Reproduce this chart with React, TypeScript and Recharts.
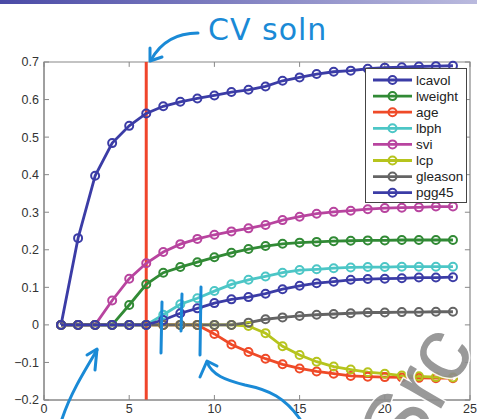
import { LineChart, Line, XAxis, YAxis, ReferenceLine, ReferenceArea } from "recharts";

const steps = [1, 2, 3, 4, 5, 6, 7, 8, 9, 10, 11, 12, 13, 14, 15, 16, 17, 18, 19, 20, 21, 22, 23, 24];

const lcavol = [0, 0.231, 0.397, 0.484, 0.53, 0.563, 0.582, 0.594, 0.603, 0.611, 0.62, 0.626, 0.635, 0.65, 0.659, 0.668, 0.674, 0.677, 0.682, 0.685, 0.686, 0.688, 0.689, 0.69];
const lweight = [0, 0, 0, 0, 0.053, 0.108, 0.139, 0.154, 0.167, 0.18, 0.192, 0.202, 0.21, 0.216, 0.219, 0.221, 0.223, 0.224, 0.225, 0.225, 0.226, 0.226, 0.226, 0.226];
const age = [0, 0, 0, 0, 0, 0, 0, 0, 0, -0.024, -0.052, -0.072, -0.09, -0.105, -0.116, -0.124, -0.13, -0.136, -0.138, -0.139, -0.14, -0.141, -0.142, -0.142];
const lbph = [0, 0, 0, 0, 0, 0, 0.027, 0.055, 0.071, 0.09, 0.108, 0.12, 0.129, 0.139, 0.146, 0.148, 0.151, 0.153, 0.154, 0.154, 0.155, 0.155, 0.155, 0.155];
const svi = [0, 0, 0, 0.065, 0.123, 0.164, 0.194, 0.215, 0.229, 0.24, 0.249, 0.257, 0.266, 0.279, 0.288, 0.296, 0.301, 0.304, 0.308, 0.311, 0.312, 0.313, 0.315, 0.315];
const lcp = [0, 0, 0, 0, 0, 0, 0, 0, 0, 0, 0, -0.003, -0.022, -0.057, -0.08, -0.098, -0.111, -0.119, -0.126, -0.13, -0.135, -0.137, -0.139, -0.14];
const gleason = [0, 0, 0, 0, 0, 0, 0, 0, 0, 0, 0, 0.006, 0.015, 0.02, 0.024, 0.027, 0.029, 0.031, 0.033, 0.033, 0.034, 0.034, 0.035, 0.035];
const pgg45 = [0, 0, 0, 0, 0, 0, 0.013, 0.031, 0.044, 0.058, 0.068, 0.074, 0.083, 0.095, 0.104, 0.111, 0.115, 0.12, 0.122, 0.123, 0.124, 0.126, 0.126, 0.127];

const xTicks = [0, 5, 10, 15, 20, 25];
const yTicks = [-0.2, -0.1, 0, 0.1, 0.2, 0.3, 0.4, 0.5, 0.6, 0.7];
const X_MIN = 0;
const X_MAX = 25;
const Y_MIN = -0.2;
const Y_MAX = 0.7;
const cvStep = 6;

// mirrored inner tick lengths (in axis units, ~5px)
const TOP_TICK = 0.013;
const RIGHT_TICK = 0.3;

const SERIES = [
  { key: "lcavol", values: lcavol, color: "#3b3ca6" },
  { key: "lweight", values: lweight, color: "#318a35" },
  { key: "age", values: age, color: "#ef4a28" },
  { key: "lbph", values: lbph, color: "#4cc6c6" },
  { key: "svi", values: svi, color: "#b8449f" },
  { key: "lcp", values: lcp, color: "#b6c41d" },
  { key: "gleason", values: gleason, color: "#646464" },
  { key: "pgg45", values: pgg45, color: "#3b3ca6" },
];

const data = steps.map((s, i) => {
  const row: Record<string, number> = { step: s };
  SERIES.forEach((ser) => (row[ser.key] = ser.values[i]));
  return row;
});

const FONT = "'Liberation Sans', Arial, sans-serif";
const AXIS = "#888888";
const BLUE_INK = "#1a8ad6";

const fmtY = (v: number) => {
  if (Math.abs(v) < 1e-9) return "0";
  return v < 0 ? "\u2212" + Math.abs(v).toFixed(1) : v.toFixed(1);
};

function LegendBox() {
  return (
    <div
      style={{
        position: "absolute",
        left: 365,
        top: 68,
        width: 100,
        height: 133,
        border: "1px solid #444",
        background: "#fff",
      }}
    >
      <svg width={100} height={133}>
        {SERIES.map((s, i) => {
          const cy = 11 + i * 16.1;
          return (
            <g key={s.key}>
              <line x1={7} x2={46} y1={cy} y2={cy} stroke={s.color} strokeWidth={2.8} />
              <circle cx={26.5} cy={cy} r={4} fill="none" stroke={s.color} strokeWidth={2} />
              <text x={50} y={cy + 4.5} fontSize={13.5} fontFamily={FONT} fill="#222">
                {s.key}
              </text>
            </g>
          );
        })}
      </svg>
    </div>
  );
}

function Annotations() {
  return (
    <svg width={477} height={419} style={{ position: "absolute", left: 0, top: 0, pointerEvents: "none" }}>
      <defs>
        <linearGradient id="hdr" x1="0" y1="0" x2="1" y2="0">
          <stop offset="0%" stopColor="#4a4aa6" />
          <stop offset="100%" stopColor="#babade" />
        </linearGradient>
      </defs>
      <rect x={0} y={0} width={477} height={4} fill="url(#hdr)" />
      <text x={208} y={40} fontSize={30} fontFamily="'DejaVu Sans', sans-serif" fill={BLUE_INK} letterSpacing={1}>
        CV soln
      </text>
      <g fill="none" stroke={BLUE_INK} strokeWidth={3} strokeLinecap="round" strokeLinejoin="round">
        <path d="M198,33 C180,33 162,40 151,60" />
        <path d="M150,48 L150,61 L162,57" />
        <path d="M162,302 L161,353" />
        <path d="M182,294 L181,331" />
        <path d="M201,287 L200,355" />
        <path d="M62,419 C70,395 82,375 97,350" />
        <path d="M87,355 L97,349 L95,370" />
        <path d="M300,419 C285,398 270,390 245,385 C225,380 212,375 207,362" />
        <path d="M200,377 L207,361 L217,366" />
      </g>
      <text
        x={408}
        y={466}
        fontSize={90}
        fontFamily={FONT}
        fill="#8e8e8e"
        stroke="#fff"
        strokeWidth={3}
        paintOrder="stroke"
        opacity={0.9}
        transform="rotate(-60 408 466)"
      >
        Src
      </text>
    </svg>
  );
}

export default function App() {
  return (
    <div style={{ position: "absolute", left: 0, top: 0, width: 477, height: 419, background: "#fff", overflow: "hidden" }}>
      <LineChart width={477} height={419} data={data} margin={{ top: 62, right: 7, bottom: 0, left: 4 }}>
        <XAxis
          dataKey="step"
          type="number"
          domain={[X_MIN, X_MAX]}
          ticks={xTicks}
          height={19}
          tickSize={-5}
          tickMargin={9}
          stroke={AXIS}
          tick={{ fontSize: 12.5, fill: "#333", fontFamily: FONT }}
        />
        <YAxis
          type="number"
          domain={[Y_MIN, Y_MAX]}
          ticks={yTicks}
          width={40}
          tickSize={-5}
          tickMargin={10}
          stroke={AXIS}
          tickFormatter={fmtY}
          tick={{ fontSize: 12.5, fill: "#333", fontFamily: FONT }}
        />
        {/* box frame with inward ticks on the top and right edges */}
        <ReferenceArea
          x1={X_MIN}
          x2={X_MAX}
          y1={Y_MIN}
          y2={Y_MAX}
          fill="none"
          fillOpacity={0}
          stroke={AXIS}
          strokeWidth={1.2}
          strokeOpacity={1}
          ifOverflow="visible"
        />
        {xTicks.map((t) => (
          <ReferenceLine
            key={"tt" + t}
            segment={[{ x: t, y: Y_MAX }, { x: t, y: Y_MAX - TOP_TICK }]}
            stroke={AXIS}
            strokeWidth={1}
            ifOverflow="visible"
          />
        ))}
        {yTicks.map((t) => (
          <ReferenceLine
            key={"rt" + t}
            segment={[{ x: X_MAX, y: t }, { x: X_MAX - RIGHT_TICK, y: t }]}
            stroke={AXIS}
            strokeWidth={1}
            ifOverflow="visible"
          />
        ))}
        <ReferenceLine x={cvStep} stroke="#f0452b" strokeWidth={3} />
        {SERIES.map((s) => (
          <Line
            key={s.key}
            dataKey={s.key}
            stroke={s.color}
            strokeWidth={2.8}
            dot={{ r: 4, stroke: s.color, strokeWidth: 2, fill: "none" }}
            activeDot={false}
            isAnimationActive={false}
          />
        ))}
      </LineChart>
      <LegendBox />
      <Annotations />
    </div>
  );
}
